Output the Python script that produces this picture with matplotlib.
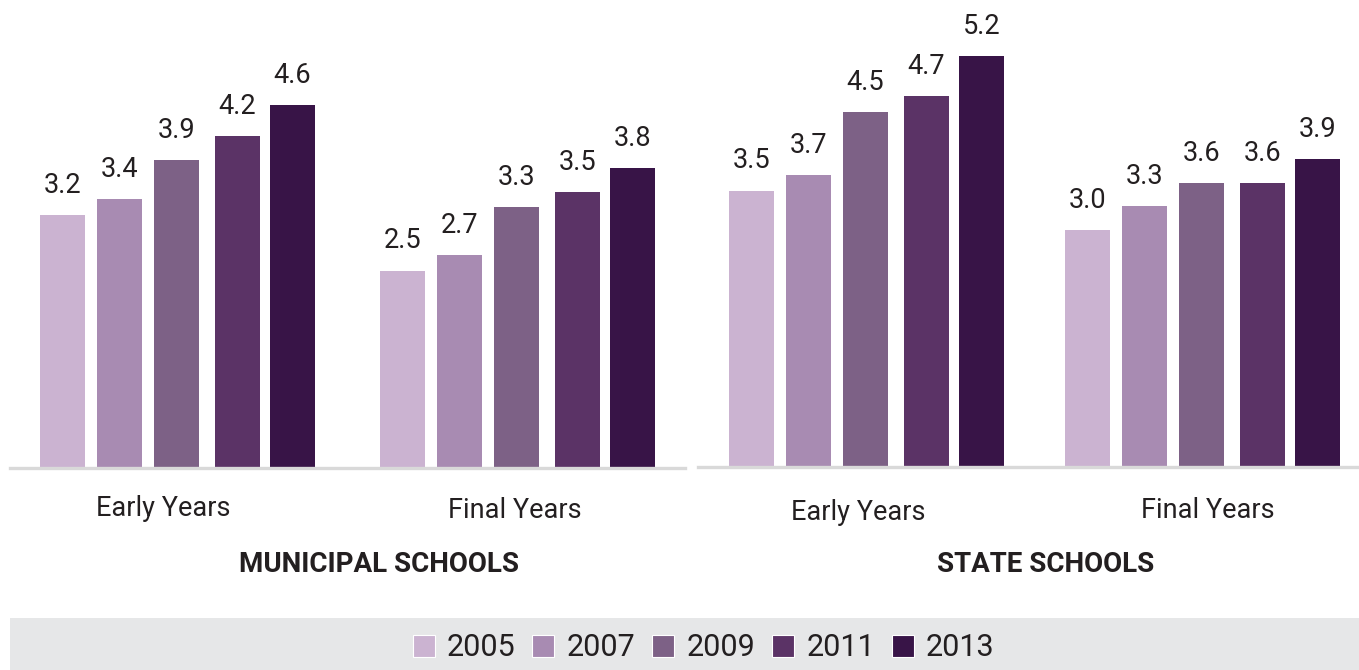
import matplotlib
matplotlib.use("Agg")
import matplotlib.pyplot as plt
from matplotlib.patches import Rectangle, Patch

plt.rcParams['font.family'] = ['Roboto', 'DejaVu Sans']

years = ["2005", "2007", "2009", "2011", "2013"]
colors = ["#cbb3d1", "#a88bb2", "#7d6186", "#5b3366", "#381447"]
categories = ["Early Years", "Final Years"]
municipal_early = [3.2, 3.4, 3.9, 4.2, 4.6]
municipal_final = [2.5, 2.7, 3.3, 3.5, 3.8]
state_early = [3.5, 3.7, 4.5, 4.7, 5.2]
state_final = [3.0, 3.3, 3.6, 3.6, 3.9]
panel_titles = ["MUNICIPAL SCHOOLS", "STATE SCHOOLS"]

W, H = 1359, 670
fig = plt.figure(figsize=(W / 100, H / 100), dpi=100)
txt = "#231f20"
PX_PER_UNIT = 79.0

def add_axes_px(x0, x1, baseline):
    ax = fig.add_axes([x0 / W, (H - baseline) / H, (x1 - x0) / W, baseline / H])
    ax.set_xlim(x0, x1)
    ax.set_ylim(0, baseline / PX_PER_UNIT)
    for s in ["top", "right", "left"]:
        ax.spines[s].set_visible(False)
    ax.spines["bottom"].set_color("#d9d9d9")
    ax.spines["bottom"].set_linewidth(2.4)
    ax.set_xticks([])
    ax.set_yticks([])
    ax.patch.set_alpha(0)
    return ax

offsets = [-115, -58, -1, 60, 115]
bar_w = 45

panels = [
    dict(x0=10, x1=685, base=468, centers=[177.5, 517.5], data=[municipal_early, municipal_final]),
    dict(x0=698, x1=1359, base=467, centers=[866.5, 1202.5], data=[state_early, state_final]),
]

for p in panels:
    ax = add_axes_px(p["x0"], p["x1"], p["base"])
    for c, vals in zip(p["centers"], p["data"]):
        xs = [c + o for o in offsets]
        ax.bar(xs, vals, width=bar_w, color=colors, zorder=2)
        for x, v in zip(xs, vals):
            ax.annotate(f"{v:.1f}", (x, v), xytext=(0, 16), textcoords="offset pixels",
                        ha="center", va="bottom", fontsize=19.5, color=txt)

# category labels and panel titles (figure pixel coords)
cat_pos = [(163, 509), (515, 510), (858, 513), (1208, 510)]
for i, (x, y) in enumerate(cat_pos):
    fig.text(x / W, 1 - y / H, categories[i % 2], ha="center", va="center", fontsize=19.5, color=txt)
title_pos = [(379, 565), (1046, 565)]
for t, (x, y) in zip(panel_titles, title_pos):
    fig.text(x / W, 1 - y / H, t, ha="center", va="center", fontsize=20, fontweight="bold", color=txt)

# legend band
fig.patches.append(Rectangle((10 / W, 0), (W - 10) / W, 52 / H, transform=fig.transFigure,
                             facecolor="#e6e7e8", edgecolor="none", zorder=0))
handles = [Patch(facecolor=c, edgecolor="white", linewidth=0.8) for c in colors]
leg = fig.legend(handles, years, loc="center", bbox_to_anchor=(703.5 / W, 1 - 648 / H), ncol=5,
                 frameon=False, fontsize=22, handlelength=0.72, handleheight=0.72,
                 handletextpad=0.4, columnspacing=0.55, labelcolor=txt)

fig.savefig("out.png", dpi=100)
